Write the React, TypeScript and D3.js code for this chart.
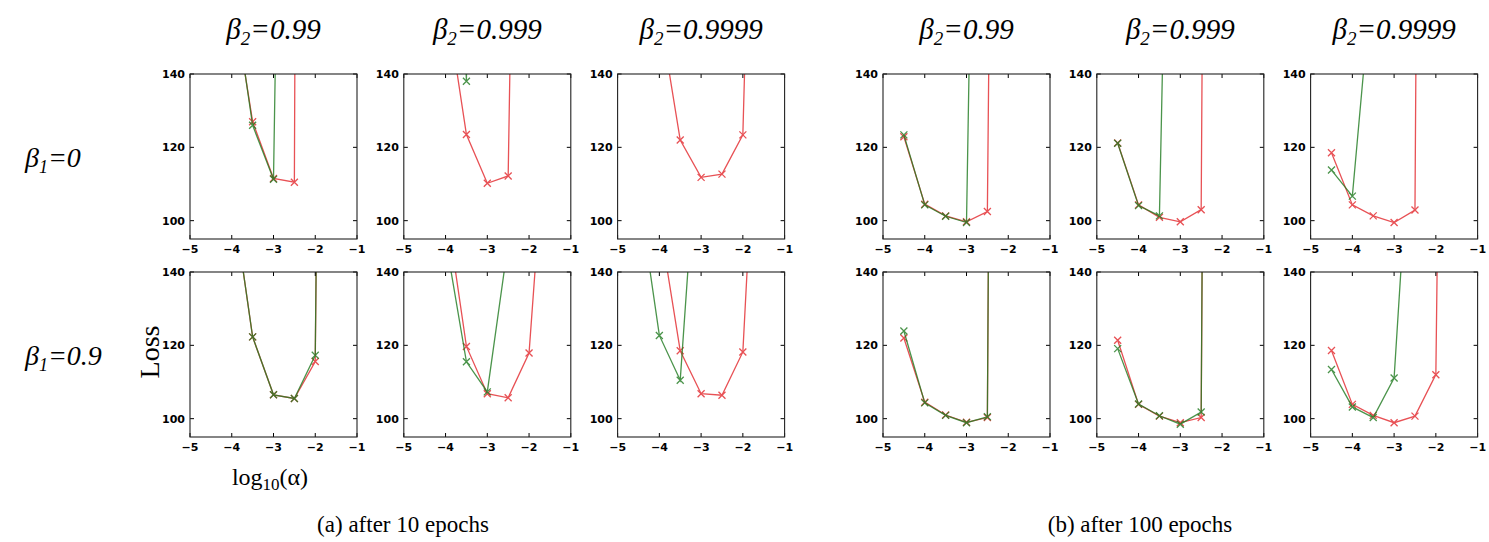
import * as d3 from "d3";

// log10(alpha) grid shared by every series
const logAlpha = [-4.5, -4, -3.5, -3, -2.5, -2, -1.5];

const xTicks = [-5, -4, -3, -2, -1];
const yTicks = [100, 120, 140];

const beta2Labels = ["0.99", "0.999", "0.9999"];
const beta1Labels = ["0", "0.9"];
const captions = ["(a) after 10 epochs", "(b) after 100 epochs"];

// after 10 epochs, beta1 = 0   (red: with bias correction, green: without)
const red10_b0_99 = [null, 163, 127, 111.5, 110.5, 1500, null];
const green10_b0_99 = [null, 165, 126, 111.3, 470, null, null];
const red10_b0_999 = [null, 161, 123.5, 110.2, 112.2, 462, null];
const green10_b0_999 = [null, 300, 138, 1000, null, null, null];
const red10_b0_9999 = [null, 157, 122, 111.8, 112.7, 123.4, 331];
const green10_b0_9999 = [null, null, null, null, null, null, null];

// after 10 epochs, beta1 = 0.9
const red10_b9_99 = [null, 162, 122.3, 106.5, 105.5, 115.6, 700];
const green10_b9_99 = [null, 162, 122.3, 106.5, 105.5, 117.3, 685];
const red10_b9_999 = [null, 158.8, 119.7, 106.8, 105.7, 117.9, 196];
const green10_b9_999 = [null, 149, 115.5, 107.3, 148, null, null];
const red10_b9_9999 = [null, 154, 118.5, 106.8, 106.4, 118.2, 227];
const green10_b9_9999 = [162, 122.7, 110.5, 192, null, null, null];

// after 100 epochs, beta1 = 0
const red100_b0_99 = [122.9, 104.5, 101.3, 99.7, 102.5, 700, null];
const green100_b0_99 = [123.4, 104.3, 101.2, 99.5, 440, null, null];
const red100_b0_999 = [121.2, 104.3, 100.9, 99.7, 103, 1000, null];
const green100_b0_999 = [121.1, 104.1, 101.3, 377, null, null, null];
const red100_b0_9999 = [118.5, 104.3, 101.3, 99.5, 102.9, 1000, null];
const green100_b0_9999 = [113.8, 106.7, 170, null, null, null, null];

// after 100 epochs, beta1 = 0.9
const red100_b9_99 = [122, 104.5, 101, 99, 100.3, 1000, null];
const green100_b9_99 = [123.9, 104.3, 100.9, 98.9, 100.5, 1000, null];
const red100_b9_999 = [121.4, 103.9, 100.7, 98.9, 100.3, 1000, null];
const green100_b9_999 = [119.1, 104, 100.8, 98.5, 101.8, 1000, null];
const red100_b9_9999 = [118.6, 103.9, 100.9, 98.9, 100.7, 112, 580];
const green100_b9_9999 = [113.4, 103.2, 100.3, 111.1, 201, null, null];

// [group][row][col] -> [red, green]
const panels = [
  [
    [[red10_b0_99, green10_b0_99], [red10_b0_999, green10_b0_999], [red10_b0_9999, green10_b0_9999]],
    [[red10_b9_99, green10_b9_99], [red10_b9_999, green10_b9_999], [red10_b9_9999, green10_b9_9999]],
  ],
  [
    [[red100_b0_99, green100_b0_99], [red100_b0_999, green100_b0_999], [red100_b0_9999, green100_b0_9999]],
    [[red100_b9_99, green100_b9_99], [red100_b9_999, green100_b9_999], [red100_b9_9999, green100_b9_9999]],
  ],
];

const width = 1489;
const height = 542;
const panelW = 167;
const panelH = 165;
const groupLeft = [190, 883];
const colStep = 213.8;
const rowTop = [74, 272];
const tickLen = 4;
const captionX = [403, 1140];

const RED = "#e3262b";
const GREEN = "#1f7a1f";
const serif = "'Liberation Serif', 'DejaVu Serif', serif";
const sans = "'DejaVu Sans', sans-serif";

const x = d3.scaleLinear().domain([-5, -1]).range([0, panelW]);
const y = d3.scaleLinear().domain([95, 140]).range([panelH, 0]);

const line = d3
  .line<[number, number | null]>()
  .defined((d) => d[1] != null)
  .x((d) => x(d[0]))
  .y((d) => y(d[1] as number));

const fmt = (v: number) => (v < 0 ? "\u2212" + Math.abs(v) : String(v));

function Series({ values, color }: { values: (number | null)[]; color: string }) {
  const pts = logAlpha.map((a, i) => [a, values[i]] as [number, number | null]);
  return (
    <g opacity={0.8}>
      <path d={line(pts) || ""} fill="none" stroke={color} strokeWidth={1.3} />
      {pts
        .filter((p) => p[1] != null)
        .map((p, i) => (
          <path
            key={i}
            transform={`translate(${x(p[0])},${y(p[1] as number)})`}
            d="M-3.5,-3.5L3.5,3.5M-3.5,3.5L3.5,-3.5"
            stroke={color}
            strokeWidth={1.3}
          />
        ))}
    </g>
  );
}

function Panel({ id, left, top, red, green }: any) {
  return (
    <g transform={`translate(${left},${top})`}>
      <clipPath id={id}>
        <rect x={0} y={0} width={panelW} height={panelH} />
      </clipPath>
      <g clipPath={`url(#${id})`}>
        <Series values={red} color={RED} />
        <Series values={green} color={GREEN} />
      </g>
      {/* ticks, inward on all four sides */}
      {xTicks.map((t) => (
        <g key={"x" + t}>
          <line x1={x(t)} x2={x(t)} y1={panelH} y2={panelH - tickLen} stroke="#000" />
          <line x1={x(t)} x2={x(t)} y1={0} y2={tickLen} stroke="#000" />
          <text
            x={x(t)}
            y={panelH + 14}
            textAnchor="middle"
            fontFamily={sans}
            fontWeight="bold"
            fontSize={11}
          >
            {fmt(t)}
          </text>
        </g>
      ))}
      {yTicks.map((t) => (
        <g key={"y" + t}>
          <line x1={0} x2={tickLen} y1={y(t)} y2={y(t)} stroke="#000" />
          <line x1={panelW} x2={panelW - tickLen} y1={y(t)} y2={y(t)} stroke="#000" />
          <text
            x={-5}
            y={y(t)}
            dy="0.35em"
            textAnchor="end"
            fontFamily={sans}
            fontWeight="bold"
            fontSize={11}
          >
            {t}
          </text>
        </g>
      ))}
      <rect x={0} y={0} width={panelW} height={panelH} fill="none" stroke="#222" strokeWidth={1.1} />
    </g>
  );
}

export default function App() {
  return (
    <svg
      width={width}
      height={height}
      style={{ position: "absolute", left: 0, top: 0, background: "#fff" }}
    >
      {panels.map((group, g) =>
        group.map((row, r) =>
          row.map((cell, c) => (
            <Panel
              key={`${g}-${r}-${c}`}
              id={`clip-${g}-${r}-${c}`}
              left={groupLeft[g] + c * colStep}
              top={rowTop[r]}
              red={cell[0]}
              green={cell[1]}
            />
          ))
        )
      )}

      {/* column titles */}
      {groupLeft.map((gl, g) =>
        beta2Labels.map((b, c) => (
          <text
            key={`t${g}${c}`}
            x={gl + c * colStep + panelW / 2}
            y={39}
            textAnchor="middle"
            fontFamily={serif}
            fontStyle="italic"
            fontSize={29}
          >
            β<tspan fontSize={19} dy={6}>2</tspan>
            <tspan dy={-6}>={b}</tspan>
          </text>
        ))
      )}

      {/* row labels */}
      {beta1Labels.map((b, r) => (
        <text
          key={"r" + r}
          x={25}
          y={rowTop[r] + panelH / 2 + 10}
          fontFamily={serif}
          fontStyle="italic"
          fontSize={28}
        >
          β<tspan fontSize={18} dy={6}>1</tspan>
          <tspan dy={-6}>={b}</tspan>
        </text>
      ))}

      <text
        transform="translate(159,352) rotate(-90)"
        textAnchor="middle"
        fontFamily={serif}
        fontSize={28}
      >
        Loss
      </text>

      <text x={270} y={485} textAnchor="middle" fontFamily={serif} fontSize={24}>
        log<tspan fontSize={17} dy={5}>10</tspan>
        <tspan dy={-5}>(α)</tspan>
      </text>

      {captions.map((c, i) => (
        <text key={c} x={captionX[i]} y={532} textAnchor="middle" fontFamily={serif} fontSize={23}>
          {c}
        </text>
      ))}
    </svg>
  );
}
